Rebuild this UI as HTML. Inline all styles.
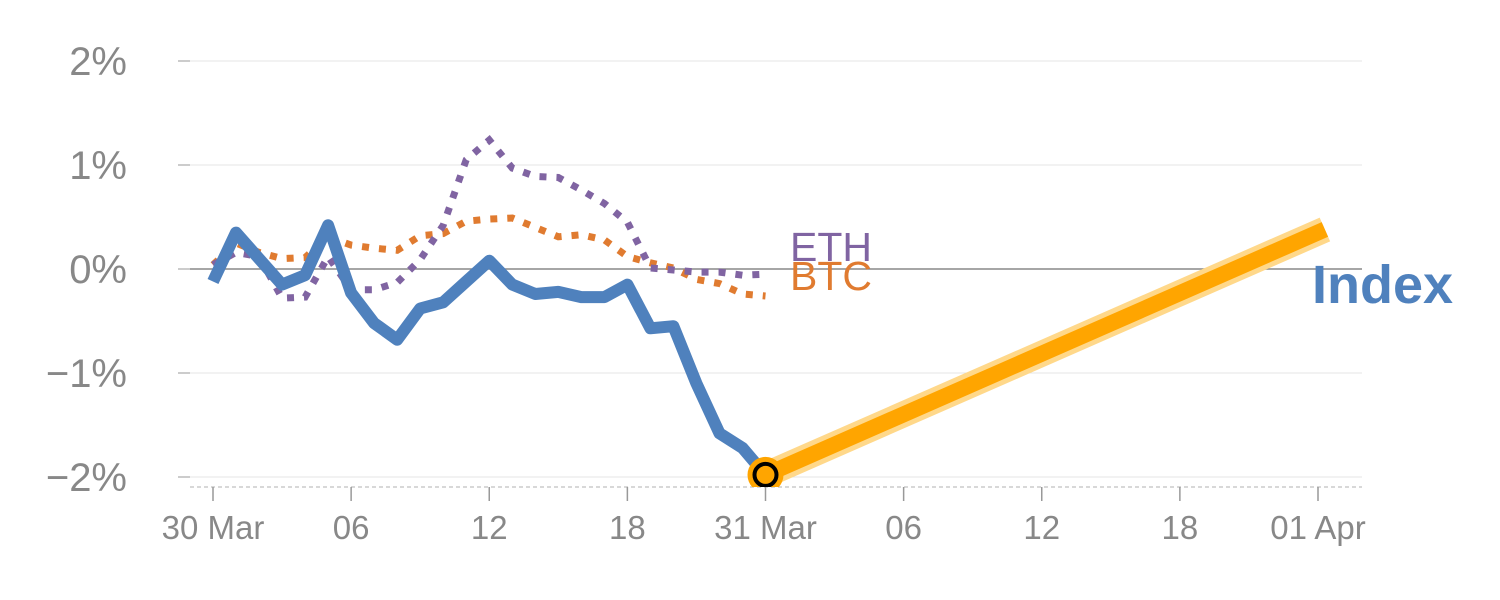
<!DOCTYPE html>
<html><head><meta charset="utf-8"><style>
html,body{margin:0;padding:0;background:#fff;width:1500px;height:600px;overflow:hidden}
svg{display:block;font-family:"Liberation Sans",sans-serif}
</style></head><body>
<svg id="chart" width="1500" height="600">
<defs><clipPath id="plotclip"><rect x="150" y="0" width="1350" height="487"/></clipPath></defs>
<g id="grid"></g>
<g id="xaxis"></g>
<g id="series" clip-path="url(#plotclip)"></g>
<text x="790" y="261" font-size="41" fill="#8064a2">ETH</text>
<text x="790" y="290" font-size="41" fill="#e07b30">BTC</text>
<text x="1312" y="303" font-size="54" font-weight="bold" fill="#4f81bd">Index</text>
</svg>
<script>
const yTicks=[2,1,0,-1,-2];
const yTickLabels=["2%","1%","0%","\u22121%","\u22122%"];
const xTicks=[0,6,12,18,24,30,36,42,48];
const xTickLabels=["30 Mar","06","12","18","31 Mar","06","12","18","01 Apr"];
const indexVals=[-0.12,0.35,0.1,-0.15,-0.06,0.42,-0.23,-0.52,-0.68,-0.38,-0.32,-0.12,0.08,-0.15,-0.24,-0.22,-0.27,-0.27,-0.15,-0.57,-0.55,-1.1,-1.58,-1.72,-1.98];
const ethVals=[0.04,0.16,0.12,-0.28,-0.27,0.12,-0.2,-0.2,-0.13,0.09,0.42,1.05,1.24,0.97,0.89,0.88,0.76,0.63,0.45,0.01,-0.01,-0.03,-0.03,-0.06,-0.05];
const btcVals=[0.04,0.25,0.16,0.1,0.11,0.31,0.23,0.2,0.18,0.32,0.34,0.46,0.48,0.49,0.4,0.31,0.33,0.28,0.12,0.06,0.01,-0.1,-0.14,-0.24,-0.26];
const projHours=[24,48.3];
const projVals=[-1.98,0.38];

const X=h=>213+h*(1318-213)/48;
const Y=v=>269-v*104;
const NS="http://www.w3.org/2000/svg";
function mk(tag,attrs,parent){const e=document.createElementNS(NS,tag);for(const k in attrs)e.setAttribute(k,attrs[k]);parent.appendChild(e);return e;}
const grid=document.getElementById('grid'),xa=document.getElementById('xaxis'),ser=document.getElementById('series');
yTicks.forEach((t,i)=>{
  const l=mk('line',{x1:190,x2:1362,y1:Y(t),y2:Y(t),stroke:t===0?'#888':'#e4e4e4','stroke-width':t===0?1.5:1},grid);
  
  
  const tk=mk('line',{x1:178,x2:190,y1:Y(t),y2:Y(t),stroke:'#999','stroke-width':1},grid);
  
  
  const tx=mk('text',{x:127,y:Y(t)+14,'text-anchor':'end','font-size':40,fill:'#888'},grid);
  tx.textContent=yTickLabels[i];
  
  
});
const ax=mk('line',{x1:190,x2:1362,y1:487,y2:487,stroke:'#ccc','stroke-width':1.5,'stroke-dasharray':'4 3'},xa);


xTicks.forEach((h,i)=>{
  const tk=mk('line',{x1:X(h),x2:X(h),y1:487,y2:501,stroke:'#999','stroke-width':1.5},xa);
  
  
  const tx=mk('text',{x:X(h),y:539,'text-anchor':'middle','font-size':33,fill:'#888'},xa);
  tx.textContent=xTickLabels[i];
  
  
});
const pts=a=>a.map((v,i)=>X(i).toFixed(1)+','+Y(v).toFixed(1)).join(' ');
let p=mk('polyline',{points:pts(btcVals),fill:'none',stroke:'#e07b30','stroke-width':7,'stroke-dasharray':'7 10'},ser);


p=mk('polyline',{points:pts(ethVals),fill:'none',stroke:'#8064a2','stroke-width':7,'stroke-dasharray':'7 10'},ser);


p=mk('polyline',{points:pts(indexVals),fill:'none',stroke:'#4f81bd','stroke-width':12,'stroke-linejoin':'round'},ser);


const pp=projHours.map((h,i)=>X(h)+','+Y(projVals[i])).join(' ');
p=mk('polyline',{points:pp,fill:'none',stroke:'#ffd88a','stroke-width':26},ser);


p=mk('polyline',{points:pp,fill:'none',stroke:'#ffa500','stroke-width':16},ser);


const cx=X(projHours[0]),cy=Y(projVals[0]);
p=mk('circle',{cx:cx,cy:cy,r:18,fill:'#ffa500'},ser);


p=mk('circle',{cx:cx,cy:cy,r:11,fill:'#ffa500',stroke:'#000','stroke-width':4},ser);


</script>
</body></html>
